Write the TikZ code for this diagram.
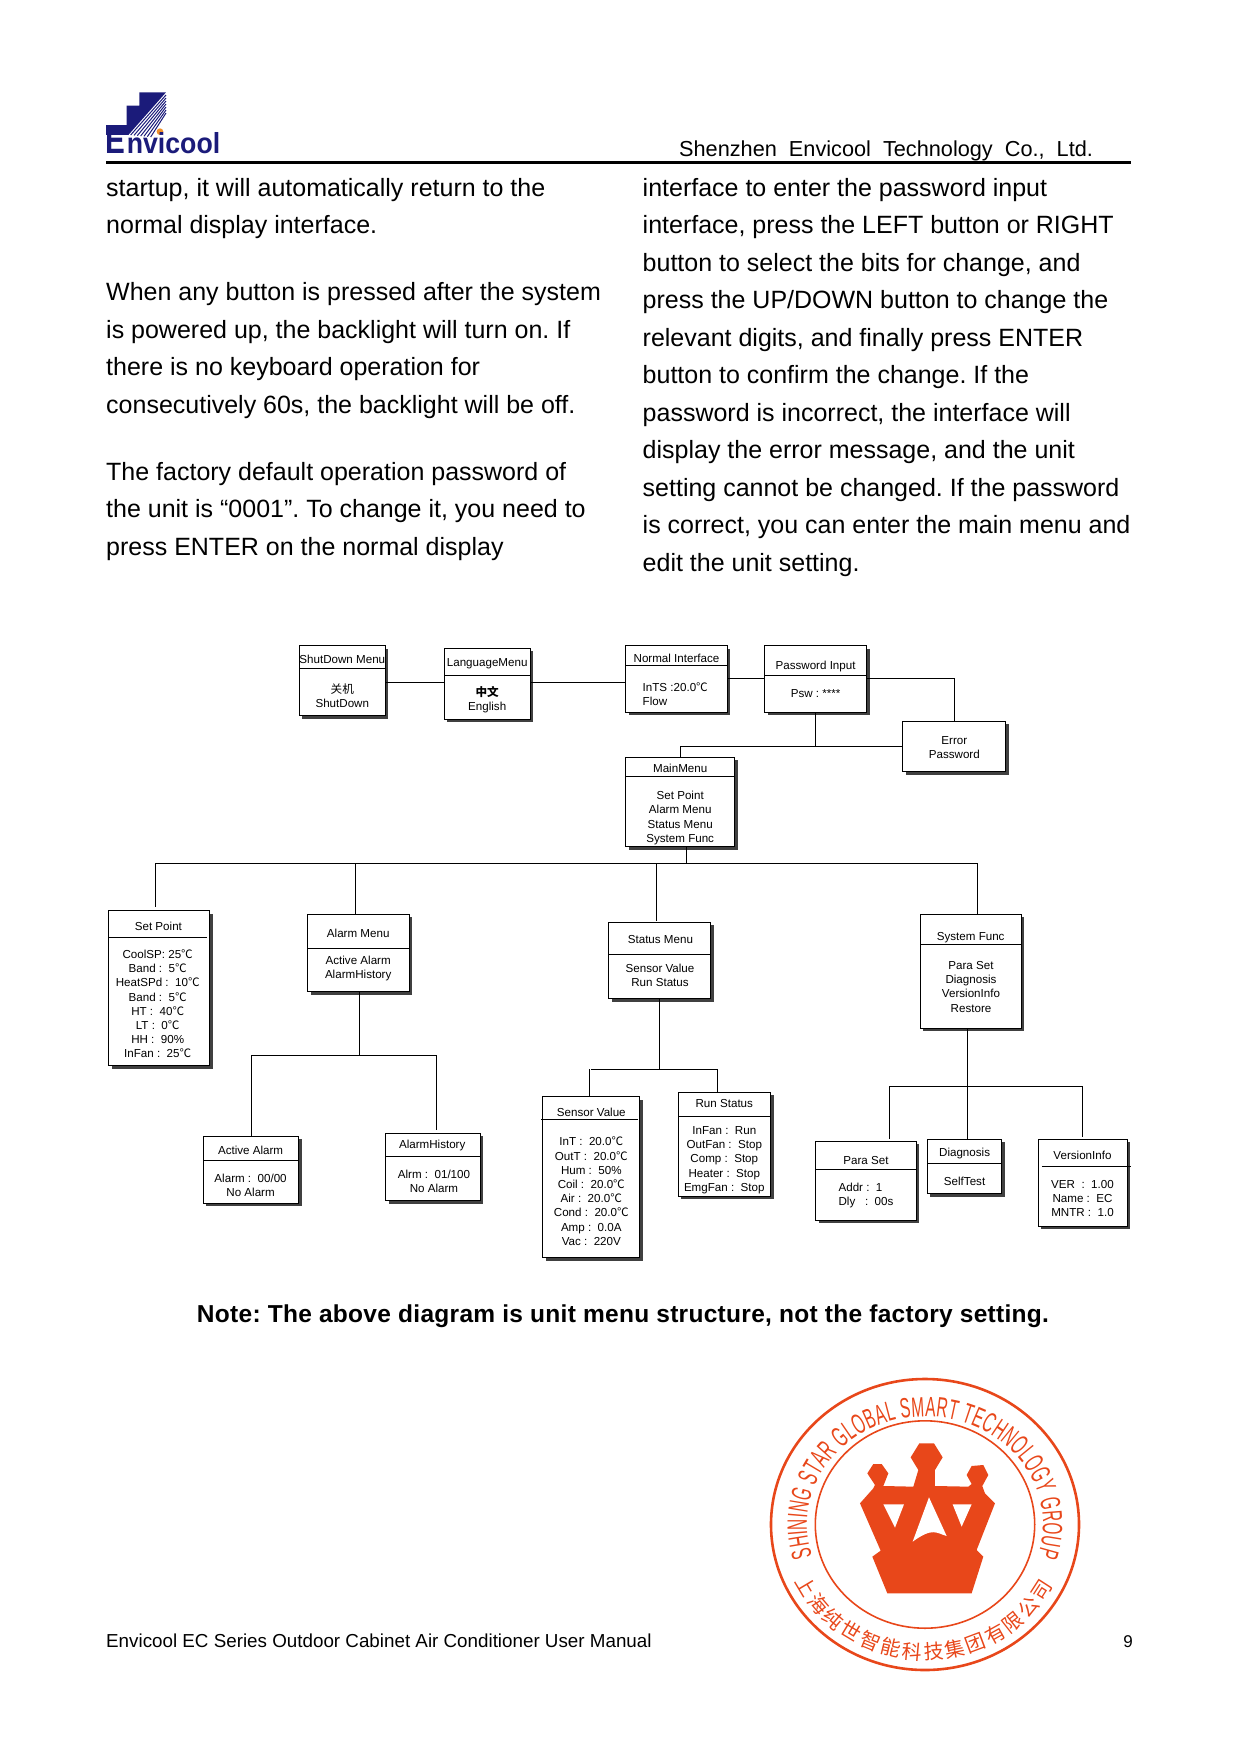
\documentclass[tikz,border=0pt]{standalone}
\usepackage{fontspec}
\setmainfont{Liberation Sans}
\newfontfamily\cjkfont{Noto Sans CJK SC}
\newfontfamily\stampfont[FakeStretch=0.55]{Liberation Sans}
\usetikzlibrary{shadows,decorations.text}
\definecolor{logonavy}{HTML}{1B1B7A}
\definecolor{logodot}{HTML}{F0902A}
\definecolor{stampred}{HTML}{E8471A}
\newcommand{\degc}{{\cjkfont ℃}}
\frenchspacing
\tikzset{
  menubox/.style={draw, fill=white, line width=1pt, inner sep=0pt, outer sep=0pt,
    drop shadow={shadow xshift=3pt, shadow yshift=-3pt, fill=black!75, opacity=1}},
  menutext/.style={inner sep=0pt, align=center, font=\fontsize{11.6}{14.2}\selectfont},
  pagetext/.style={inner sep=0pt, anchor=north west, align=left, font=\fontsize{25}{37.5}\selectfont},
  tie/.style={line width=1pt}
}
\begin{document}
\begin{tikzpicture}[x=1pt, y=-1pt]
\useasboundingbox (0,0) rectangle (1241,1754);

% 1. logo and page head
\begin{scope}[shift={(100,85)}, x=0.3333pt, y=-0.3333pt]
  \fill[logonavy] (18,120) -- (80,120) -- (80,62) -- (118,62) -- (118,22) -- (198,22) -- (85,150) -- (18,150) -- cycle;
  \foreach \k in {0,...,6} \draw[logonavy, line width=1pt] (198,{30+9*\k}) -- ({92+10*\k},{150+1*\k});
  \fill[logodot] (180,140) circle (10);
  \node[inner sep=0pt, anchor=base west, text=logonavy, xscale=0.78, font=\fontsize{38}{38}\selectfont\bfseries] (logoE) at (16,205) {E};
  \node[inner sep=0pt, anchor=base west, text=logonavy, xscale=0.92, font=\fontsize{29}{29}\selectfont\bfseries] (logoname) at (80,205) {nvicool};
\end{scope}
\node[inner sep=0pt, anchor=base west, font=\fontsize{21.7}{26}\selectfont] (company) at (679,156) {Shenzhen\ \ Envicool\ \ Technology\ \ Co.,\ \ Ltd.};
\fill[black] (106,161.3) rectangle (1131,164.3);

% 2. two columns of text
\node[pagetext] (leftcol) at (106,178) {startup, it will automatically return to the\\
normal display interface.\\[29.5pt]
When any button is pressed after the system\\
is powered up, the backlight will turn on. If\\
there is no keyboard operation for\\
consecutively 60s, the backlight will be off.\\[29.5pt]
The factory default operation password of\\
the unit is “0001”. To change it, you need to\\
press ENTER on the normal display};
\node[pagetext] (rightcol) at (642.5,178) {interface to enter the password input\\
interface, press the LEFT button or RIGHT\\
button to select the bits for change, and\\
press the UP/DOWN button to change the\\
relevant digits, and finally press ENTER\\
button to confirm the change. If the\\
password is incorrect, the interface will\\
display the error message, and the unit\\
setting cannot be changed. If the password\\
is correct, you can enter the main menu and\\
edit the unit setting.};

% 3. menu boxes of the upper row
\node[menubox, minimum width=85.8pt, minimum height=70pt] (shutdown) at (342.3,680.7) {};
\draw[tie] (shutdown.west |- 0,668.3) -- (shutdown.east |- 0,668.3);
\node[menutext] (shutdowntitle) at (342.3,659.3) {ShutDown Menu};
\node[menutext] (shutdownbody) at (342.3,695.5) {{\cjkfont 关机}\\ShutDown};

\node[menubox, minimum width=85.8pt, minimum height=71pt] (language) at (487.2,683.8) {};
\draw[tie] (language.west |- 0,675.3) -- (language.east |- 0,675.3);
\node[menutext] (languagetitle) at (487.2,664) {LanguageMenu};
\node[menutext] (languagebody) at (487.2,700) {{\cjkfont\bfseries 中文}\\English};

\node[menubox, minimum width=101.8pt, minimum height=66.6pt] (normal) at (676.5,679) {};
\draw[tie] (normal.west |- 0,665) -- (normal.east |- 0,665);
\node[menutext] (normaltitle) at (676.5,658) {Normal Interface};
\node[menutext, anchor=west, align=left] (normalbody) at (642.5,694) {InTS :20.0\degc\\Flow};

\node[menubox, minimum width=101.8pt, minimum height=66.6pt] (password) at (815.6,679) {};
\draw[tie] (password.west |- 0,675.3) -- (password.east |- 0,675.3);
\node[menutext] (passwordtitle) at (815.6,666) {Password Input};
\node[menutext] (passwordbody) at (815.6,694) {Psw : ****};

\node[menubox, minimum width=102.7pt, minimum height=50.4pt] (errorpsw) at (954.3,746.5) {};
\node[menutext] (errorbody) at (954.3,747.5) {Error\\Password};

\node[menubox, minimum width=109.1pt, minimum height=89.4pt] (mainmenu) at (680.2,802) {};
\draw[tie] (mainmenu.west |- 0,776) -- (mainmenu.east |- 0,776);
\node[menutext] (maintitle) at (680.2,768.3) {MainMenu};
\node[menutext] (mainbody) at (680.2,818) {Set Point\\Alarm Menu\\Status Menu\\System Func};

% 4. menu boxes of the second row
\node[menubox, minimum width=101pt, minimum height=155pt] (setpoint) at (159,988.2) {};
\draw[tie] (setpoint.west |- 0,937.3) -- (206.5,937.3);
\node[menutext] (setpointtitle) at (158.4,926) {Set Point};
\node[menutext] (setpointbody) at (157.7,1003.8) {CoolSP: 25\degc\\Band :\ \ 5\degc\\HeatSPd :\ \ 10\degc\\Band :\ \ 5\degc\\HT :\ \ 40\degc\\LT :\ \ 0\degc\\HH :\ \ 90\%\\InFan :\ \ 25\degc};

\node[menubox, minimum width=101.8pt, minimum height=77.4pt] (alarmmenu) at (358.4,953) {};
\draw[tie] (alarmmenu.west |- 0,948.3) -- (alarmmenu.east |- 0,948.3);
\node[menutext] (alarmtitle) at (358.2,933.2) {Alarm Menu};
\node[menutext] (alarmbody) at (358.2,968.5) {Active Alarm\\AlarmHistory};

\node[menubox, minimum width=102.1pt, minimum height=76.4pt] (statusmenu) at (659.6,960.5) {};
\draw[tie] (statusmenu.west |- 0,954.3) -- (statusmenu.east |- 0,954.3);
\node[menutext] (statustitle) at (660.4,939.7) {Status Menu};
\node[menutext] (statusbody) at (660,975) {Sensor Value\\Run Status};

\node[menubox, minimum width=101pt, minimum height=114pt] (systemfunc) at (970.9,971.3) {};
\draw[tie] (systemfunc.west |- 0,944.3) -- (systemfunc.east |- 0,944.3);
\node[menutext] (systemtitle) at (970.7,937.2) {System Func};
\node[menutext] (systembody) at (971,986.7) {Para Set\\Diagnosis\\VersionInfo\\Restore};

% 5. menu boxes of the third row
\node[menubox, minimum width=95.5pt, minimum height=67pt] (activealarm) at (251,1169.8) {};
\draw[tie] (activealarm.west |- 0,1160.3) -- (activealarm.east |- 0,1160.3);
\node[menutext] (activetitle) at (250.6,1150.2) {Active Alarm};
\node[menutext] (activebody) at (250.6,1185) {Alarm :\ \ 00/00\\No Alarm};

\node[menubox, minimum width=94.7pt, minimum height=67.4pt] (alarmhistory) at (433,1167) {};
\draw[tie] (alarmhistory.west |- 0,1156.3) -- (alarmhistory.east |- 0,1156.3);
\node[menutext] (historytitle) at (432.2,1145.7) {AlarmHistory};
\node[menutext] (historybody) at (434,1181.7) {Alrm :\ \ 01/100\\No Alarm};

\node[menubox, minimum width=97.3pt, minimum height=161pt] (sensorvalue) at (591.2,1177.2) {};
\draw[tie] (541.3,1119.3) -- (637.5,1119.3);
\node[menutext] (sensortitle) at (591.3,1112.7) {Sensor Value};
\node[menutext] (sensorbody) at (591.3,1191.3) {InT :\ \ 20.0\degc\\OutT :\ \ 20.0\degc\\Hum :\ \ 50\%\\Coil :\ \ 20.0\degc\\Air :\ \ 20.0\degc\\Cond :\ \ 20.0\degc\\Amp :\ \ 0.0A\\Vac :\ \ 220V};

\node[menubox, minimum width=92.5pt, minimum height=104pt] (runstatus) at (724.5,1144.3) {};
\draw[tie] (runstatus.west |- 0,1116.3) -- (runstatus.east |- 0,1116.3);
\node[menutext] (runtitle) at (724.3,1103.2) {Run Status};
\node[menutext] (runbody) at (724.3,1160) {InFan :\ \ Run\\OutFan :\ \ Stop\\Comp :\ \ Stop\\Heater :\ \ Stop\\EmgFan :\ \ Stop};

\node[menubox, minimum width=100.7pt, minimum height=79pt] (paraset) at (866,1180.8) {};
\draw[tie] (paraset.west |- 0,1169.3) -- (paraset.east |- 0,1169.3);
\node[menutext] (paratitle) at (866,1160.7) {Para Set};
\node[menutext, align=left] (parabody) at (866,1195.7) {Addr :\ \ 1\\Dly\ \ \ :\ \ 00s};

\node[menubox, minimum width=74.3pt, minimum height=54.4pt] (diagnosis) at (964.6,1166.5) {};
\draw[tie] (diagnosis.west |- 0,1163.3) -- (diagnosis.east |- 0,1163.3);
\node[menutext] (diagtitle) at (964.6,1153.5) {Diagnosis};
\node[menutext] (diagbody) at (964.6,1181.7) {SelfTest};

\node[menubox, minimum width=89.3pt, minimum height=87pt] (versioninfo) at (1082.8,1182.8) {};
\draw[tie] (1041.8,1166.3) -- (1131,1166.3);
\node[menutext] (versiontitle) at (1082.5,1155.3) {VersionInfo};
\node[menutext] (versionbody) at (1082.5,1198.3) {VER\ \ :\ \ 1.00\\Name :\ \ EC\\MNTR :\ \ 1.0};

% 6. connectors between the boxes
\coordinate (langtie) at (400,682.3);
\coordinate (pswtie) at (800,678.3);
\coordinate (maintie) at (800,746.3);
\coordinate (busleft) at (155.5,863.3);
\coordinate (busright) at (977.5,863.3);
\coordinate (alarmbus) at (300,1055.3);
\coordinate (statusbus) at (600,1069.3);
\coordinate (systembus) at (900,1086.3);

\draw[tie] (langtie -| shutdown.east) -- (langtie -| language.west);
\draw[tie] (langtie -| language.east) -- (langtie -| normal.west);
\draw[tie] (pswtie -| normal.east) -- (pswtie -| password.west);
\draw[tie] (pswtie -| password.east) -- (pswtie -| errorpsw.north) -- (errorpsw.north);
\draw[tie] (password.south) -- (password.south |- maintie);
\draw[tie] (errorpsw.west |- maintie) -- (maintie -| mainmenu.north) -- (mainmenu.north);

\draw[tie] (mainmenu.south -| 686.2,0) -- (686.2,863.3);
\draw[tie] (busleft) -- (busright);
\draw[tie] (busleft) -- ([yshift=3.7pt]setpoint.north -| busleft);
\draw[tie] (355.3,863.3) -- (355.3,914.3);
\draw[tie] (656.8,863.3) -- (656.8,920.7);
\draw[tie] (busright) -- (busright |- systemfunc.north);

\draw[tie] (359.3,991.7) -- (359.3,1055.3);
\draw[tie] (alarmbus -| activealarm.north) -- (alarmbus -| 436.7,0);
\draw[tie] (alarmbus -| activealarm.north) -- (activealarm.north);
\draw[tie] (436.7,1055.3) -- (436.7,1130);

\draw[tie] (statusmenu.south) -- (statusmenu.south |- statusbus);
\draw[tie] (statusbus -| sensorvalue.north) -- (statusbus -| 717.5,0);
\draw[tie] (589.4,1069.3) -- (589.4,1096.7);
\draw[tie] (717.5,1069.3) -- (717.5,1092.3);

\draw[tie] (967.5,1028.3) -- (967.5,1139.3);
\draw[tie] (889.3,1086.3) -- (1082.5,1086.3);
\draw[tie] (889.3,1086.3) -- (889.3,1139.3);
\draw[tie] (1082.5,1086.3) -- (1082.5,1136.7);

% 7. note below the diagram
\node[inner sep=0pt, font=\fontsize{24.5}{30}\selectfont\bfseries] (note) at (623,1316) {\addfontfeature{LetterSpace=1.2}Note: The above diagram is unit menu structure, not the factory setting.};

% 8. stamp
\begin{scope}[shift={(925,1524.5)}, y=1pt]
  \draw[stampred, line width=2.6pt] (0,0) ellipse [x radius=154, y radius=145.5];
  \draw[stampred, line width=1.6pt] (0,0) ellipse [x radius=109.7, y radius=103.7];
  \path[decorate, decoration={text along path, text color=stampred, text align={fit to path},
    text={|\fontsize{28}{28}\stampfont|SHINING STAR GLOBAL SMART TECHNOLOGY GROUP}}]
    (197:118 and 108) arc [start angle=197, end angle=-17, x radius=118, y radius=108];
  \path[decorate, decoration={text along path, text color=stampred, text align={fit to path},
    text={|\fontsize{20}{20}\cjkfont|上海纯世智能科技集团有限公司}}]
    (205:144 and 135) arc [start angle=205, end angle=333, x radius=144, y radius=135];
\end{scope}
\begin{scope}[shift={(750,1360)}, x=0.3333pt, y=-0.3333pt]
  \fill[stampred] (508,250) -- (552,250) -- (578,292) -- (555,330) -- (555,378) -- (655,380) -- (665,372) -- (650,345) -- (665,318) -- (700,315) -- (715,345) -- (697,378) -- (705,400) -- (735,430) -- (680,570) -- (700,590) -- (665,700) -- (412,700) -- (367,590) -- (392,572) -- (330,430) -- (370,385) -- (375,375) -- (352,340) -- (370,312) -- (395,312) -- (415,340) -- (400,378) -- (490,380) -- (505,330) -- (482,292) -- cycle;
  \fill[white] (400,433) -- (462,433) -- (435,503) -- cycle;
  \fill[white] (608,433) -- (665,433) -- (635,500) -- cycle;
  \fill[white] (537,412) -- (590,528) .. controls (560,520) and (550,500) .. (488,545) -- cycle;
\end{scope}

% 9. page foot
\node[inner sep=0pt, anchor=base west, font=\fontsize{18.8}{24}\selectfont] (footer) at (106,1647) {Envicool EC Series Outdoor Cabinet Air Conditioner User Manual};
\node[inner sep=0pt, anchor=base, font=\fontsize{17}{20}\selectfont] (pageno) at (1128,1647) {9};
\end{tikzpicture}
\end{document}
